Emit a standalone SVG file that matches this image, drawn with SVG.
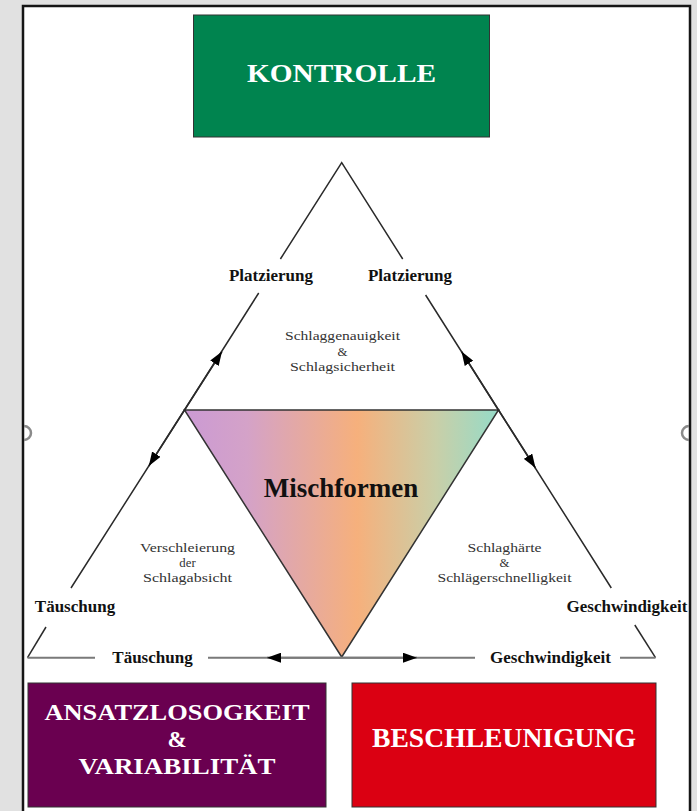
<svg xmlns="http://www.w3.org/2000/svg" width="697" height="811" viewBox="0 0 697 811">
  <defs>
    <linearGradient id="mix" x1="184" y1="0" x2="499" y2="0" gradientUnits="userSpaceOnUse">
      <stop offset="0" stop-color="#CB9AD4"/>
      <stop offset="0.2" stop-color="#D4A2C8"/>
      <stop offset="0.55" stop-color="#F6B07C"/>
      <stop offset="0.8" stop-color="#C9CFA8"/>
      <stop offset="1" stop-color="#95DBC8"/>
    </linearGradient>
    <marker id="ah" viewBox="0 0 14 10" refX="14" refY="5" markerWidth="14" markerHeight="10" markerUnits="userSpaceOnUse" orient="auto">
      <path d="M0,0 L14,5 L0,10 z" fill="#000"/>
    </marker>
    <style>
      .frame { fill: none; stroke: #151515; stroke-width: 2.5; }
      .side { fill: none; stroke: #2a2a2a; stroke-width: 1.5; }
      .base { fill: none; stroke: #7a7a7a; stroke-width: 2; }
      .arr { fill: none; stroke: #2a2a2a; stroke-width: 1.5; marker-end: url(#ah); }
      .arrb { fill: none; stroke: #7a7a7a; stroke-width: 2; marker-end: url(#ah); }
      .box { stroke: #333; stroke-width: 1; }
      .big { font-family: "Liberation Serif", "Times New Roman", serif; font-weight: bold; fill: #fff; text-anchor: middle; }
      .lbl { font-family: "Liberation Serif", "Times New Roman", serif; font-weight: bold; font-size: 17px; fill: #111; text-anchor: middle; }
      .small { font-family: "Liberation Serif", "Times New Roman", serif; font-size: 12.8px; fill: #333; text-anchor: middle; }
      .mark { fill: none; stroke: #8a8a8a; stroke-width: 2.5; }
    </style>
  </defs>

  <!-- background and frame -->
  <rect x="0" y="0" width="697" height="811" fill="#E1E1E1"/>
  <rect x="23" y="6" width="667" height="810" fill="#fff"/>
  <path class="frame" d="M23,811 L23,6 L690,6 L690,811"/>
  <path class="mark" d="M24,426 A7,7 0 0 1 24,440"/>
  <path class="mark" d="M689,426 A7,7 0 0 0 689,440"/>

  <!-- central inverted triangle -->
  <g id="mischformen">
    <polygon points="184.5,410 498.5,410 341.7,657" fill="url(#mix)" stroke="#333" stroke-width="1.5"/>
    <text class="lbl" x="341" y="497" style="font-size:27px">Mischformen</text>
  </g>

  <!-- connectors -->
  <g id="connectors">
    <path class="side" d="M280.4,259 L341.7,162.7 L402.7,259"/>
    <path class="side" d="M258.7,293 L184.5,410 L71,588"/>
    <path class="side" d="M46,627 L27.5,657.7"/>
    <path class="side" d="M425.6,295 L498.5,410 L611.3,588"/>
    <path class="side" d="M634.8,625 L655.5,657.7"/>
    <path class="base" d="M27.5,657.7 L95,657.7 M208,657.7 L475,657.7 M620,657.7 L655.5,657.7"/>
    <path class="arr" d="M184.5,410 L222,351.5"/>
    <path class="arr" d="M184.5,410 L148.8,466"/>
    <path class="arr" d="M498.5,410 L461.5,351.5"/>
    <path class="arr" d="M498.5,410 L535.5,468"/>
    <path class="arrb" d="M341.7,657.7 L267,657.7"/>
    <path class="arrb" d="M341.7,657.7 L417,657.7"/>
  </g>

  <!-- edge labels -->
  <g id="labels">
    <text class="lbl" x="271" y="281">Platzierung</text>
    <text class="lbl" x="410" y="281">Platzierung</text>
    <text class="lbl" x="75" y="612">Täuschung</text>
    <text class="lbl" x="627" y="612">Geschwindigkeit</text>
    <text class="lbl" x="152.5" y="663">Täuschung</text>
    <text class="lbl" x="550.5" y="663">Geschwindigkeit</text>
  </g>

  <g id="top-area">
    <text class="small" x="342.5" y="340" textLength="115" lengthAdjust="spacingAndGlyphs">Schlaggenauigkeit</text>
    <text class="small" x="342.5" y="355.5">&amp;</text>
    <text class="small" x="342.5" y="371" textLength="105" lengthAdjust="spacingAndGlyphs">Schlagsicherheit</text>
  </g>
  <g id="left-area">
    <text class="small" x="187.5" y="552" textLength="95" lengthAdjust="spacingAndGlyphs">Verschleierung</text>
    <text class="small" x="187.5" y="567">der</text>
    <text class="small" x="187.5" y="582" textLength="89" lengthAdjust="spacingAndGlyphs">Schlagabsicht</text>
  </g>
  <g id="right-area">
    <text class="small" x="504.5" y="552" textLength="74" lengthAdjust="spacingAndGlyphs">Schlaghärte</text>
    <text class="small" x="504.5" y="567">&amp;</text>
    <text class="small" x="504.5" y="582" textLength="134" lengthAdjust="spacingAndGlyphs">Schlägerschnelligkeit</text>
  </g>

  <!-- boxes -->
  <g id="kontrolle">
    <rect class="box" x="193.5" y="15" width="296" height="122" fill="#00844F"/>
    <text class="big" x="341.5" y="82" style="font-size:26px" textLength="189" lengthAdjust="spacingAndGlyphs">KONTROLLE</text>
  </g>
  <g id="ansatzlosigkeit">
    <rect class="box" x="28" y="683" width="298" height="124" fill="#6A0050"/>
    <text class="big" x="177" y="720" style="font-size:23px" textLength="265" lengthAdjust="spacingAndGlyphs">ANSATZLOSOGKEIT</text>
    <text class="big" x="177" y="747" style="font-size:23px">&amp;</text>
    <text class="big" x="177" y="774" style="font-size:23px" textLength="197" lengthAdjust="spacingAndGlyphs">VARIABILITÄT</text>
  </g>
  <g id="beschleunigung">
    <rect class="box" x="352" y="683" width="304" height="124" fill="#DB0012"/>
    <text class="big" x="504" y="747" style="font-size:27px" textLength="264" lengthAdjust="spacingAndGlyphs">BESCHLEUNIGUNG</text>
  </g>
</svg>
